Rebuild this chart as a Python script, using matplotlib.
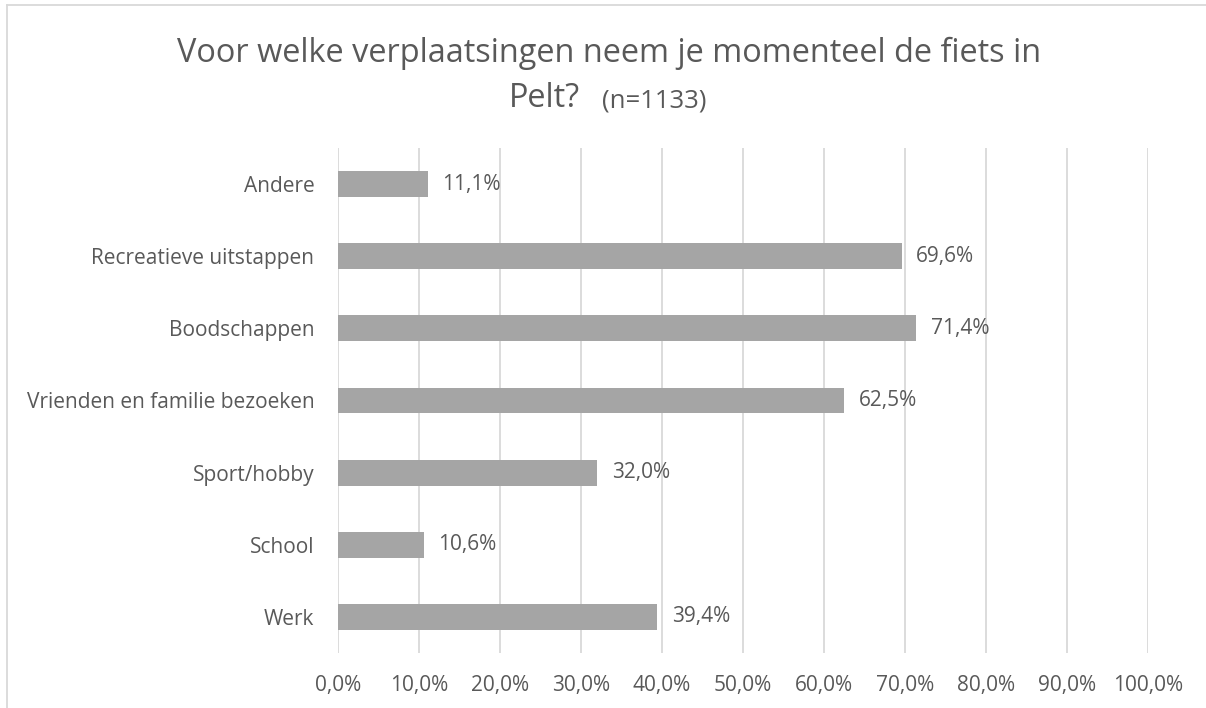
import matplotlib
matplotlib.use('Agg')
import matplotlib.pyplot as plt
from matplotlib.lines import Line2D

categories = ['Werk', 'School', 'Sport/hobby', 'Vrienden en familie bezoeken',
              'Boodschappen', 'Recreatieve uitstappen', 'Andere']
values = [39.4, 10.6, 32.0, 62.5, 71.4, 69.6, 11.1]
ticks = [0, 10, 20, 30, 40, 50, 60, 70, 80, 90, 100]

plt.rcParams['font.family'] = ['Open Sans', 'DejaVu Sans']
text_col = '#595959'

fig = plt.figure(figsize=(12.06, 7.08), dpi=100)
ax = fig.add_axes([338 / 1206, 1 - 653 / 708, 810 / 1206, 505 / 708])

y = range(len(categories))
ax.barh(y, values, height=0.36, color='#A5A5A5', zorder=3)
for i, v in enumerate(values):
	ax.text(v + 1.8, i, ('%.1f%%' % v).replace('.', ','), va='center', ha='left',
			fontsize=15, color=text_col, zorder=4)

ax.set_xlim(0, 100)
ax.set_ylim(-0.5, len(categories) - 0.5)
ax.set_xticks(ticks)
ax.set_xticklabels([('%.1f%%' % t).replace('.', ',') for t in ticks])
ax.set_yticks(list(y))
ax.set_yticklabels(categories)
ax.tick_params(axis='both', length=0, labelsize=15, labelcolor=text_col)
ax.tick_params(axis='y', pad=17)
ax.tick_params(axis='x', pad=16)
ax.grid(axis='x', color='#D9D9D9', linewidth=1.3, zorder=0)
for s in ax.spines.values():
	s.set_visible(False)

# title, two lines, second line with smaller n
fig.text(609 / 1206, 1 - 62 / 708, 'Voor welke verplaatsingen neem je momenteel de fiets in',
		 ha='center', va='baseline', fontsize=23.4, color=text_col)
fig.text(580 / 1206, 1 - 107 / 708, 'Pelt?', ha='right', va='baseline',
		 fontsize=23.4, color=text_col)
fig.text(602 / 1206, 1 - 107 / 708, '(n=1133)', ha='left', va='baseline',
		 fontsize=18.5, color=text_col)

# chart border (left and top)
fig.add_artist(Line2D([7 / 1206, 7 / 1206], [0, 1 - 5 / 708], transform=fig.transFigure,
					  color='#D9D9D9', linewidth=1.3))
fig.add_artist(Line2D([7 / 1206, 1], [1 - 5 / 708, 1 - 5 / 708], transform=fig.transFigure,
					  color='#D9D9D9', linewidth=1.3))

fig.savefig('out.png', dpi=100)
